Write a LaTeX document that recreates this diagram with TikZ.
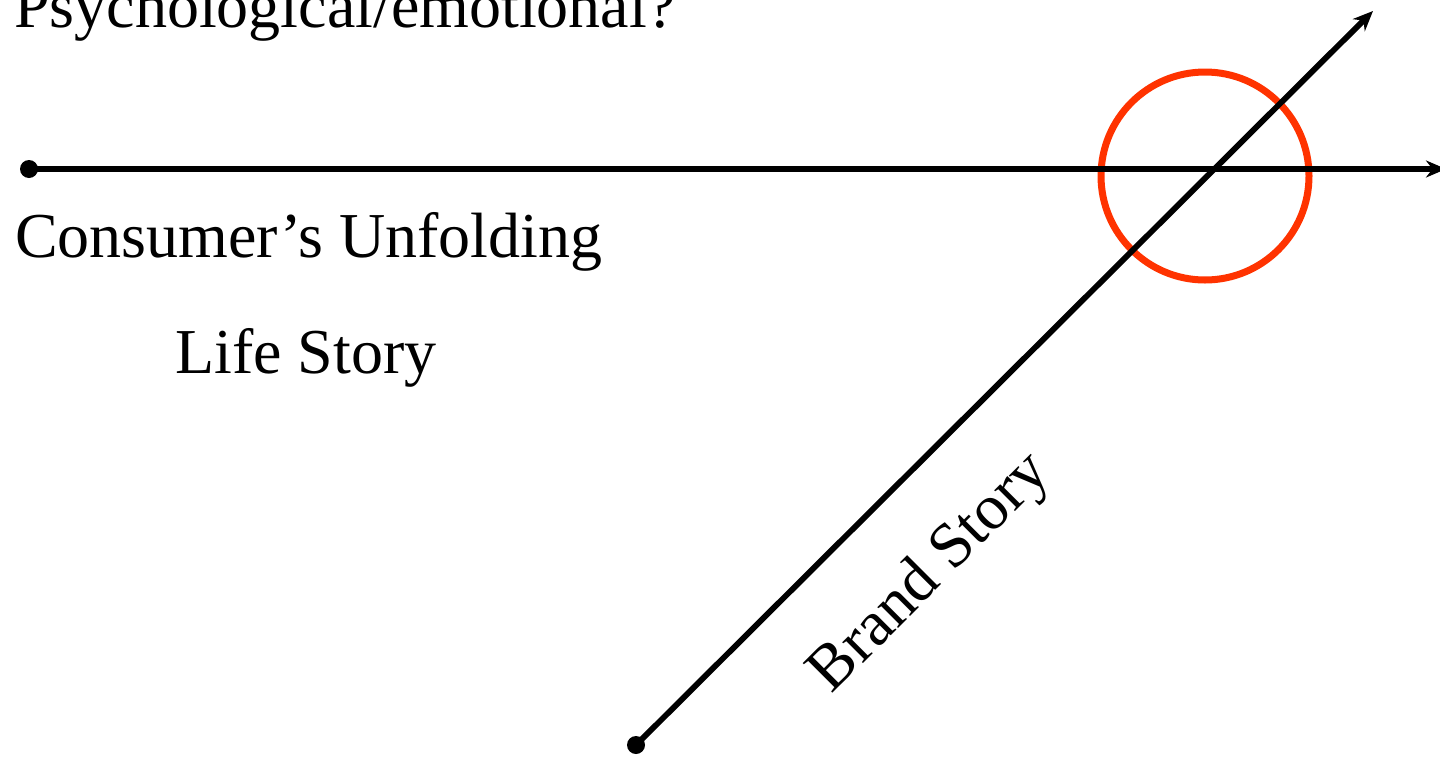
\documentclass[tikz,border=0pt]{standalone}
\usepackage{fontspec}
\setmainfont{Liberation Serif}
\usetikzlibrary{arrows.meta}
\definecolor{ringred}{HTML}{FF3300}
\begin{document}
\begin{tikzpicture}[x=1pt,y=-1pt,
  axis/.style={line width=5.8pt,-{Stealth[length=20pt,width=17pt]}},
  enddot/.style={circle,fill=black,inner sep=0pt,minimum size=18pt},
  label/.style={font=\fontsize{64}{70}\selectfont,inner sep=0pt,anchor=base west}]
\useasboundingbox (0,0) rectangle (1440,758);
\node[enddot] (hstart) at (29,169) {};
\coordinate (hend) at (1446,169);
\node[enddot] (dstart) at (636,745) {};
\coordinate (dend) at (1373,11);
\draw[ringred,line width=7pt] (1205,176) circle[radius=104];
\draw[axis] (hstart.center) -- (hend);
\draw[axis] (dstart.center) -- (dend);
\node[label] (psy) at (14,27) {Psychological/emotional?};
\node[label] (cons) at (15,257) {Consumer’s Unfolding};
\node[label] (life) at (175,373) {Life Story};
\node[font=\fontsize{64}{70}\selectfont,inner sep=0pt,rotate=45] (brand) at (931,574) {Brand Story};
\end{tikzpicture}
\end{document}
